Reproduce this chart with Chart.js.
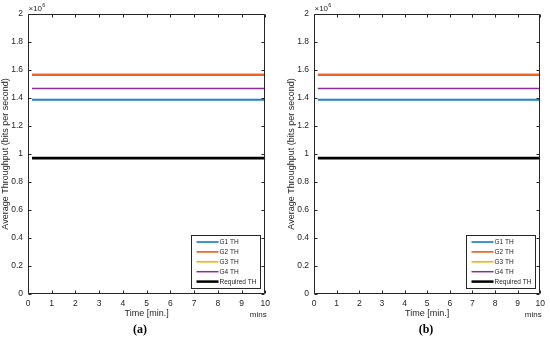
<!DOCTYPE html>
<html>
<head>
<meta charset="utf-8">
<script src="https://cdn.jsdelivr.net/npm/chart.js@4/dist/chart.umd.min.js"></script>
<style>
  html, body { margin: 0; padding: 0; background: #fff; }
  #wrap { position: relative; width: 550px; height: 339px; background: #fff; overflow: hidden; }
  .panel { position: absolute; top: 0; width: 275px; height: 339px; }
</style>
</head>
<body>
<div id="wrap">
  <div class="panel" style="left:0"><canvas id="ca" width="275" height="339"></canvas></div>
  <div class="panel" style="left:275px"><canvas id="cb" width="275" height="339"></canvas></div>
</div>
<script>
// ---- data ----
const timeMin = [0.17, 10];                 // minutes
const xTicks = [0, 1, 2, 3, 4, 5, 6, 7, 8, 9, 10];
const yTicks = [0, 0.2, 0.4, 0.6, 0.8, 1, 1.2, 1.4, 1.6, 1.8, 2]; // x 10^6
const seriesLabels = ['G1 TH', 'G2 TH', 'G3 TH', 'G4 TH', 'Required TH'];

// panel (a), bits per second
const a_G1 = [1.387e6, 1.387e6];
const a_G2 = [1.564e6, 1.564e6];
const a_G3 = [1.569e6, 1.569e6];
const a_G4 = [1.468e6, 1.468e6];
const a_Req = [0.970e6, 0.970e6];

// panel (b), bits per second
const b_G1 = [1.387e6, 1.387e6];
const b_G2 = [1.564e6, 1.564e6];
const b_G3 = [1.569e6, 1.569e6];
const b_G4 = [1.468e6, 1.468e6];
const b_Req = [0.970e6, 0.970e6];

// ---- styles ----
const colors = ['#1f80cc', '#ee6428', '#f7b21e', '#8b2d98', '#000000'];
const widths = [2, 2, 2, 1.6, 2.8];
const drawOrder = [1, 2, 3, 0, -1]; // lower order drawn on top in Chart.js
const AX = '#262626';
const SANS = '"Liberation Sans", Arial, sans-serif';

function makeDatasets(series) {
  return series.map((vals, i) => ({
    label: seriesLabels[i],
    data: timeMin.map((t, k) => ({ x: t, y: vals[k] })),
    borderColor: colors[i],
    backgroundColor: colors[i],
    borderWidth: widths[i],
    pointRadius: 0,
    fill: false,
    tension: 0,
    order: drawOrder[i]
  }));
}

const framePlugin = {
  id: 'matlabFrame',
  afterDraw(chart, args, opts) {
    const { ctx, chartArea: a, scales: { x, y } } = chart;
    ctx.save();
    const L = Math.round(a.left) + 0.5, R = Math.round(a.right) - 0.5;
    const T = Math.round(a.top) + 0.5, B = Math.round(a.bottom) - 0.5;
    ctx.strokeStyle = AX;
    ctx.lineWidth = 1;
    ctx.beginPath();
    ctx.rect(L, T, R - L, B - T);
    // inward ticks
    const tl = 3;
    x.ticks.forEach(t => {
      const px = Math.round(x.getPixelForValue(t.value)) + 0.5;
      ctx.moveTo(px, B); ctx.lineTo(px, B - tl);
      ctx.moveTo(px, T); ctx.lineTo(px, T + tl);
    });
    y.ticks.forEach(t => {
      const py = Math.round(y.getPixelForValue(t.value)) + 0.5;
      ctx.moveTo(L, py); ctx.lineTo(L + tl, py);
      ctx.moveTo(R, py); ctx.lineTo(R - tl, py);
    });
    ctx.stroke();

    // legend box (inside plot, bottom-right)
    const lw = 69, lh = 53;
    const lx = Math.round(a.right - 5 - lw) + 0.5;
    const ly = Math.round(a.bottom - 6 - lh) + 0.5;
    ctx.fillStyle = '#fff';
    ctx.fillRect(lx, ly, lw, lh);
    ctx.strokeStyle = AX;
    ctx.lineWidth = 1;
    ctx.strokeRect(lx, ly, lw, lh);
    ctx.font = '6.5px ' + SANS;
    ctx.textBaseline = 'middle';
    ctx.textAlign = 'left';
    chart.data.datasets.forEach((ds, i) => {
      const cy = ly + 6.5 + i * 9.9;
      ctx.strokeStyle = ds.borderColor;
      ctx.lineWidth = Math.max(1.5, ds.borderWidth - 0.3);
      ctx.beginPath();
      ctx.moveTo(lx + 5, cy); ctx.lineTo(lx + 27, cy);
      ctx.stroke();
      ctx.fillStyle = AX;
      ctx.fillText(ds.label, lx + 28, cy + 0.5);
    });

    // axis titles and annotations
    ctx.fillStyle = AX;
    ctx.font = '9px ' + SANS;
    ctx.textAlign = 'center';
    ctx.textBaseline = 'middle';
    ctx.fillText('Time [min.]', (a.left + a.right) / 2, 314);
    ctx.save();
    ctx.translate(a.left - 22, (a.top + a.bottom) / 2);
    ctx.rotate(-Math.PI / 2);
    ctx.fillText('Average Throughput (bits per second)', 0, 0);
    ctx.restore();

    ctx.font = '8px ' + SANS;
    ctx.fillText('mins', a.right - 7, 315);

    // exponent label
    ctx.textAlign = 'left';
    ctx.font = '8px ' + SANS;
    ctx.fillText('\u00d710', a.left + 0.5, 9);
    const w = ctx.measureText('\u00d710').width;
    ctx.font = '5.5px ' + SANS;
    ctx.fillText('6', a.left + 0.5 + w + 0.3, 5.5);

    // panel letter
    ctx.fillStyle = '#000';
    ctx.font = 'bold 12px "Liberation Serif", "DejaVu Serif", serif';
    ctx.textAlign = 'center';
    ctx.fillText(opts.letter, a.left + 112, 330);
    ctx.restore();
  }
};

function makeChart(id, series, yAxisWidth, letter) {
  return new Chart(document.getElementById(id), {
    type: 'line',
    data: { datasets: makeDatasets(series) },
    plugins: [framePlugin],
    options: {
      responsive: false,
      animation: false,
      events: [],
      layout: { padding: { top: 14, right: 8, bottom: 0, left: 0 } },
      plugins: {
        legend: { display: false },
        tooltip: { enabled: false },
        matlabFrame: { letter: letter }
      },
      scales: {
        x: {
          type: 'linear',
          min: 0, max: 10,
          afterFit(s) { s.height = 45; },
          afterBuildTicks(s) { s.ticks = xTicks.map(v => ({ value: v })); },
          grid: { display: false, drawTicks: false },
          border: { display: false },
          ticks: { color: AX, font: { family: SANS, size: 8.5 }, padding: 5, maxRotation: 0, autoSkip: false,
                   callback: v => String(v) }
        },
        y: {
          type: 'linear',
          min: 0, max: 2e6,
          afterFit(s) { s.width = yAxisWidth; },
          afterBuildTicks(s) { s.ticks = yTicks.map(v => ({ value: v * 1e6 })); },
          grid: { display: false, drawTicks: false },
          border: { display: false },
          ticks: { color: AX, font: { family: SANS, size: 8.5 }, padding: 5, autoSkip: false,
                   callback: v => String(Math.round(v / 1e5) / 10) }
        }
      }
    }
  });
}

makeChart('ca', [a_G1, a_G2, a_G3, a_G4, a_Req], 28, '(a)');
makeChart('cb', [b_G1, b_G2, b_G3, b_G4, b_Req], 39, '(b)');
</script>
</body>
</html>
